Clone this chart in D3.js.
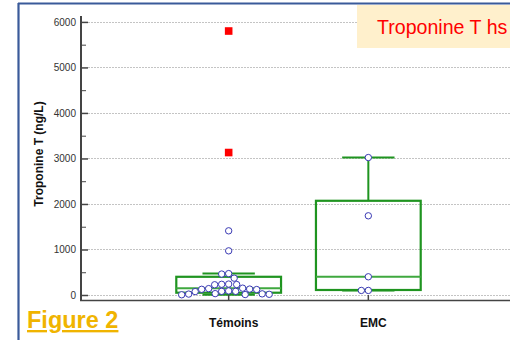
<!DOCTYPE html>
<html>
<head>
<meta charset="utf-8">
<script src="https://cdn.jsdelivr.net/npm/d3@7"></script>
<style>
  html, body { margin: 0; padding: 0; background: #fff; }
  svg { display: block; font-family: "Liberation Sans", Arial, sans-serif; }
</style>
</head>
<body>
<svg id="chart" width="510" height="340"></svg>
<script>
// Groups on the x axis
const groups = ["Témoins", "EMC"];

// Individual Troponine T hs measurements (ng/L), per group
const temoinsValues = [1410, 970, 470, 460, 370, 240, 235, 230, 225, 150, 140, 130, 125, 120,
                       90, 80, 80, 75, 30, 25, 20, 15, 10, 5];
const emcValues = [3020, 1740, 400, 100, 100];

// Far-out values (red squares)
const temoinsFarOut = [5800, 3130];
const emcFarOut = [];

// Box-and-whisker summaries: [whisker low, Q1, median, Q3, whisker high]
const temoinsBox = [5, 50, 150, 400, 470];
const emcBox = [100, 110, 400, 2070, 3020];

// Axis ticks
const yMajorTicks = [0, 1000, 2000, 3000, 4000, 5000, 6000];
const yMinorTicks = [500, 1500, 2500, 3500, 4500, 5500];

const series = [
  { name: groups[0], values: temoinsValues, farOut: temoinsFarOut, box: temoinsBox },
  { name: groups[1], values: emcValues, farOut: emcFarOut, box: emcBox }
];

const svg = d3.select("#chart");
const FONT = "'Liberation Sans', Arial, sans-serif";

const y = d3.scaleLinear().domain([-110, 6130]).range([300, 16]);
const x = d3.scaleBand().domain(groups).range([89, 508]).paddingInner(0.25).paddingOuter(0.625);
const cx = g => x(g) + x.bandwidth() / 2;
const axisX = 81;

// Outer frame lines (top and left)
svg.append("line").attr("x1", 18).attr("x2", 510).attr("y1", 3.5).attr("y2", 3.5)
  .attr("stroke", "#3a5a9a").attr("stroke-width", 2.2);
svg.append("line").attr("x1", 18.5).attr("x2", 18.5).attr("y1", 3).attr("y2", 340)
  .attr("stroke", "#3a5a9a").attr("stroke-width", 2.2);

// Dotted horizontal gridlines
svg.append("g").selectAll("line").data(yMajorTicks).join("line")
  .attr("x1", axisX + 7).attr("x2", 510)
  .attr("y1", d => Math.round(y(d)) + 0.5).attr("y2", d => Math.round(y(d)) + 0.5)
  .attr("stroke", "#c4c4c4").attr("stroke-width", 1).attr("stroke-dasharray", "2,1");

// Y axis: major ticks with labels, minor ticks without
const yAxis = d3.axisLeft(y).tickValues(yMajorTicks).tickSize(-7).tickPadding(5).tickFormat(d3.format("d"));
const gy = svg.append("g").attr("transform", `translate(${axisX},0)`).call(yAxis);
gy.select(".domain").remove();
gy.selectAll(".tick line").attr("stroke", "#444").attr("stroke-width", 1.5);
gy.selectAll(".tick text").attr("font-family", FONT).attr("font-size", 10).attr("fill", "#333");

const gyMinor = svg.append("g").attr("transform", `translate(${axisX},0)`)
  .call(d3.axisLeft(y).tickValues(yMinorTicks).tickSize(-5).tickFormat(""));
gyMinor.select(".domain").remove();
gyMinor.selectAll(".tick line").attr("stroke", "#444").attr("stroke-width", 1);

// Y axis title
svg.append("text")
  .attr("transform", `translate(43,${(100 + 208) / 2}) rotate(-90)`)
  .attr("text-anchor", "middle")
  .attr("font-family", FONT).attr("font-size", 12).attr("font-weight", "bold").attr("fill", "#111")
  .text("Troponine T (ng/L)");

// Box plots
const boxColor = "#1f9420";
const medianColor = "#3fa83f";
series.forEach(s => {
  const [lo, q1, med, q3, hi] = s.box;
  const c = cx(s.name);
  const bw = x.bandwidth();
  const g = svg.append("g");
  // whiskers
  g.append("line").attr("x1", c).attr("x2", c).attr("y1", y(q3)).attr("y2", y(hi))
    .attr("stroke", boxColor).attr("stroke-width", 2);
  g.append("line").attr("x1", c).attr("x2", c).attr("y1", y(q1)).attr("y2", y(lo))
    .attr("stroke", boxColor).attr("stroke-width", 2);
  g.append("line").attr("x1", c - bw / 4).attr("x2", c + bw / 4).attr("y1", y(hi)).attr("y2", y(hi))
    .attr("stroke", boxColor).attr("stroke-width", 2);
  g.append("line").attr("x1", c - bw / 4).attr("x2", c + bw / 4).attr("y1", y(lo)).attr("y2", y(lo))
    .attr("stroke", boxColor).attr("stroke-width", 2);
  // box
  g.append("rect").attr("x", x(s.name)).attr("width", bw)
    .attr("y", y(q3)).attr("height", y(q1) - y(q3))
    .attr("fill", "none").attr("stroke", boxColor).attr("stroke-width", 2.2);
  // median
  g.append("line").attr("x1", x(s.name)).attr("x2", x(s.name) + bw).attr("y1", y(med)).attr("y2", y(med))
    .attr("stroke", medianColor).attr("stroke-width", 2);
});

// X axis line and inward ticks
svg.append("line").attr("x1", axisX - 1).attr("x2", 510).attr("y1", 300.5).attr("y2", 300.5)
  .attr("stroke", "#444").attr("stroke-width", 1.6);
const gx = svg.append("g").attr("transform", "translate(0,300)")
  .call(d3.axisBottom(x).tickSize(-5).tickFormat(""));
gx.select(".domain").remove();
gx.selectAll(".tick line").attr("stroke", "#444").attr("stroke-width", 1.5);

// Y axis line
svg.append("line").attr("x1", axisX).attr("x2", axisX).attr("y1", 16).attr("y2", 301)
  .attr("stroke", "#444").attr("stroke-width", 2);

// Dot plot: simple beeswarm so that circles do not overlap
const r = 3.2;
function swarm(values, center) {
  const placed = [];
  const sorted = values.slice().sort((a, b) => b - a);
  sorted.forEach(v => {
    const py = y(v);
    let best = null;
    for (let k = 0; k < 400 && best === null; k++) {
      const off = (k % 2 === 0 ? 1 : -1) * Math.ceil(k / 2) * 0.5;
      const px = center + off;
      const ok = placed.every(p => (p.x - px) ** 2 + (p.y - py) ** 2 >= (2 * r + 0.4) ** 2);
      if (ok) best = px;
    }
    placed.push({ x: best, y: py, v });
  });
  return placed;
}
series.forEach(s => {
  const pts = swarm(s.values, cx(s.name));
  svg.append("g").selectAll("circle").data(pts).join("circle")
    .attr("cx", d => d.x).attr("cy", d => d.y).attr("r", r)
    .attr("fill", "#fff").attr("stroke", "#3a3ab4").attr("stroke-width", 1);
  svg.append("g").selectAll("rect").data(s.farOut).join("rect")
    .attr("x", cx(s.name) - 3.8).attr("y", d => y(d) - 3.8)
    .attr("width", 7.6).attr("height", 7.6).attr("fill", "#ff0000");
});

// Group labels
svg.append("g").selectAll("text").data(groups).join("text")
  .attr("x", d => cx(d) + 5).attr("y", 327)
  .attr("text-anchor", "middle")
  .attr("font-family", FONT).attr("font-size", 12).attr("font-weight", "bold").attr("fill", "#111")
  .text(d => d);

// Title box
svg.append("rect").attr("x", 357).attr("y", 5).attr("width", 153).attr("height", 43).attr("fill", "#fff0cc");
svg.append("text").attr("x", 377).attr("y", 34)
  .attr("font-family", FONT).attr("font-size", 19.6).attr("fill", "#ff0000")
  .text("Troponine T hs");

// Figure label
svg.append("text").attr("x", 27).attr("y", 328)
  .attr("font-family", FONT).attr("font-size", 23.5).attr("font-weight", "bold")
  .attr("fill", "#f0b400").attr("text-decoration", "underline")
  .text("Figure 2");
</script>
</body>
</html>
